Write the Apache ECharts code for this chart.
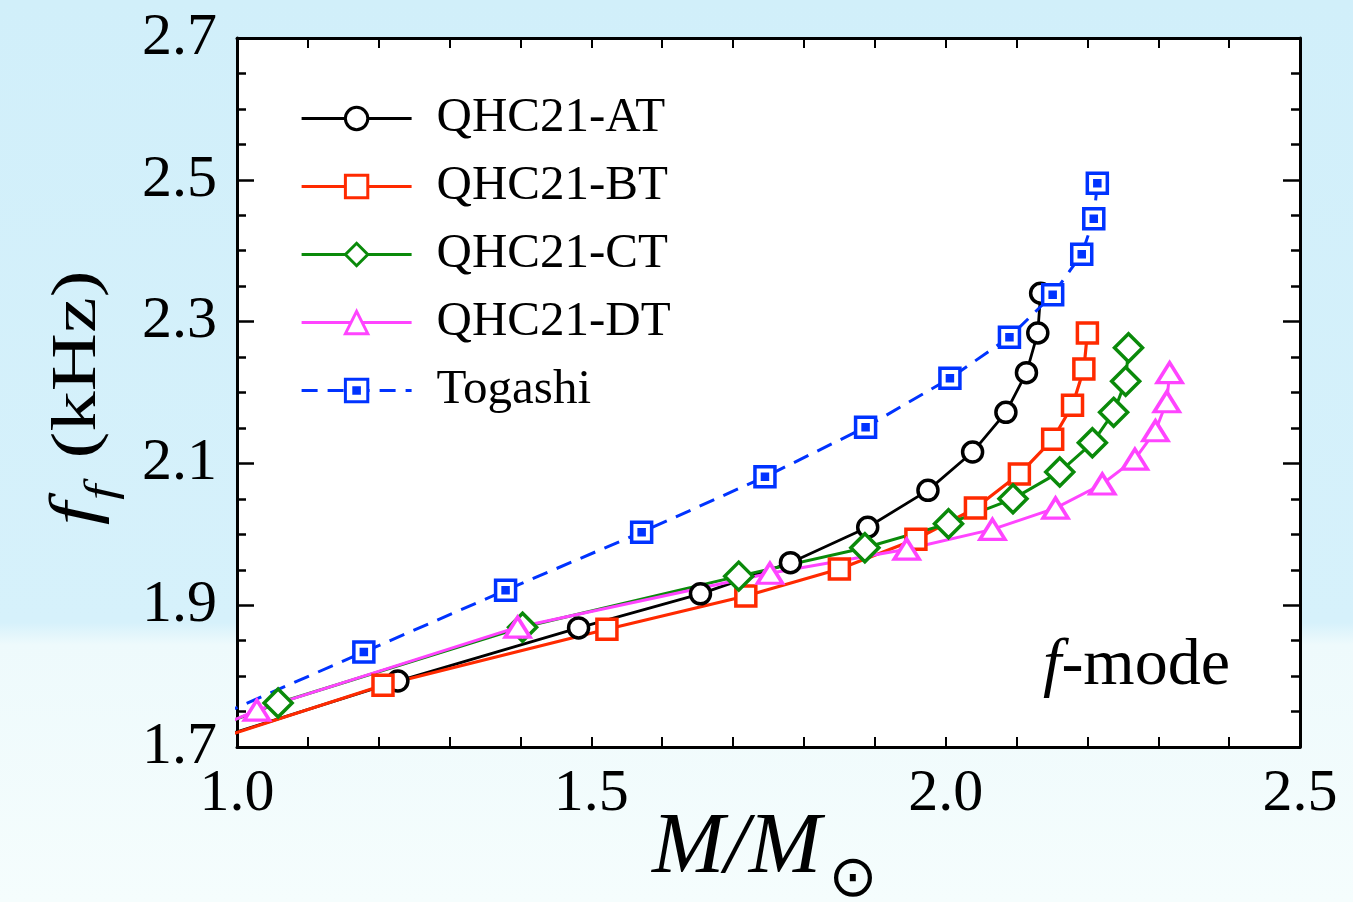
<!DOCTYPE html>
<html>
<head>
<meta charset="utf-8">
<title>f-mode frequency vs mass</title>
<style>
  html, body {
    margin: 0; padding: 0; width: 1353px; height: 902px; overflow: hidden;
    background: linear-gradient(to bottom, #d1effa 0%, #d6f1fb 69%, #eefafc 71.5%, #f5fdfd 100%);
  }
  #chart { width: 1353px; height: 902px; }
</style>
<script src="https://cdn.jsdelivr.net/npm/echarts/dist/echarts.min.js"></script>
</head>
<body>
<div id="chart"></div>
<script>
// Stellar mass (in solar masses) and f-mode frequency (kHz) for each equation of state.
// The first entry of each sequence lies just below 1.0 M_sun, where the curves enter the frame.
const massAT = [0.98, 1.227, 1.482, 1.654, 1.781, 1.890, 1.975, 2.038, 2.085, 2.114, 2.130, 2.134];
const freqAT = [1.715, 1.793, 1.868, 1.916, 1.960, 2.010, 2.062, 2.116, 2.172, 2.228, 2.284, 2.340];

const massBT = [0.98, 1.206, 1.522, 1.718, 1.850, 1.958, 2.042, 2.104, 2.151, 2.179, 2.195, 2.200];
const freqBT = [1.714, 1.787, 1.866, 1.913, 1.951, 1.993, 2.037, 2.085, 2.134, 2.182, 2.233, 2.284];

const massCT = [0.98, 1.058, 1.403, 1.708, 1.886, 2.004, 2.095, 2.161, 2.207, 2.237, 2.254, 2.258];
const freqCT = [1.732, 1.762, 1.869, 1.941, 1.981, 2.015, 2.050, 2.088, 2.129, 2.172, 2.216, 2.263];

const massDT = [0.98, 1.028, 1.396, 1.752, 1.945, 2.066, 2.155, 2.221, 2.267, 2.296, 2.312, 2.316];
const freqDT = [1.731, 1.752, 1.869, 1.945, 1.979, 2.007, 2.037, 2.071, 2.106, 2.146, 2.187, 2.228];

const massTog = [0.98, 1.179, 1.379, 1.571, 1.745, 1.887, 2.006, 2.090, 2.151, 2.192, 2.209, 2.214];
const freqTog = [1.747, 1.834, 1.921, 2.003, 2.081, 2.151, 2.220, 2.278, 2.338, 2.395, 2.445, 2.495];

const seriesNames = ['QHC21-AT', 'QHC21-BT', 'QHC21-CT', 'QHC21-DT', 'Togashi'];

// Axis ranges and tick spacing
const xRange = [1.0, 2.5], xStep = 0.5;
const yRange = [1.7, 2.7], yStep = 0.2;

const SERIF = 'Liberation Serif';
const INK = '#000';

// Open square with a solid centre dot (outer frame + two nested inner squares that the stroke fills in)
const dottedSquare = 'path://M0,0L20,0L20,20L0,20Z M7.5,7.5L12.5,7.5L12.5,12.5L7.5,12.5Z M9,9L11,9L11,11L9,11Z';

const styles = [
  { color: '#000000', symbol: 'circle',   size: 20,       lw: 2.8, dash: 'solid' },
  { color: '#ff2a00', symbol: 'rect',     size: 20,       lw: 3.2, dash: 'solid' },
  { color: '#0a8a0a', symbol: 'diamond',  size: 28,       lw: 3,   dash: 'solid' },
  { color: '#ff44ff', symbol: 'triangle', size: [25, 20], lw: 3,   dash: 'solid' },
  { color: '#0033ff', symbol: dottedSquare, size: 20,     lw: 3,   dash: [16, 10] }
];

const masses = [massAT, massBT, massCT, massDT, massTog];
const freqs = [freqAT, freqBT, freqCT, freqDT, freqTog];

function pairs(xs, ys) { return xs.map((x, i) => [x, ys[i]]); }

const series = seriesNames.map((name, k) => ({
  name: name,
  type: 'line',
  data: pairs(masses[k], freqs[k]),
  color: styles[k].color,
  symbol: styles[k].symbol,
  symbolSize: styles[k].size,
  showAllSymbol: true,
  clip: true,
  lineStyle: { color: styles[k].color, width: styles[k].lw, type: styles[k].dash },
  itemStyle: { color: '#fff', borderColor: styles[k].color, borderWidth: 3.5 },
  emphasis: { disabled: true },
  xAxisIndex: 0,
  yAxisIndex: 0
}));

const frameLine = { show: true, onZero: false, lineStyle: { color: INK, width: 3 } };
const tickFont = { color: INK, fontFamily: SERIF, fontSize: 60 };

function xAxisCfg(position, withLabels) {
  return {
    type: 'value', position: position,
    min: xRange[0], max: xRange[1], interval: xStep,
    axisLine: frameLine,
    axisTick: { show: true, inside: true, length: 10, lineStyle: { color: INK, width: 2 } },
    minorTick: { show: true, splitNumber: 5, length: 10, lineStyle: { color: INK, width: 2 } },
    splitLine: { show: false }, minorSplitLine: { show: false },
    axisLabel: Object.assign({ show: withLabels, margin: 17, showMinLabel: true, showMaxLabel: true,
      formatter: v => v.toFixed(1) }, tickFont)
  };
}

function yAxisCfg(position, withLabels) {
  return {
    type: 'value', position: position,
    min: yRange[0], max: yRange[1], interval: yStep,
    axisLine: frameLine,
    axisTick: { show: true, inside: true, length: 17, lineStyle: { color: INK, width: 2.5 } },
    minorTick: { show: true, splitNumber: 4, length: 9, lineStyle: { color: INK, width: 2.5 } },
    splitLine: { show: false }, minorSplitLine: { show: false },
    axisLabel: Object.assign({ show: withLabels, margin: 20, showMinLabel: true, showMaxLabel: true,
      formatter: v => v.toFixed(1) }, tickFont)
  };
}

const option = {
  animation: false,
  backgroundColor: 'transparent',
  grid: { left: 237, right: 53, top: 38, bottom: 155, show: true, backgroundColor: '#fff', borderWidth: 0 },
  xAxis: [xAxisCfg('bottom', true), xAxisCfg('top', false)],
  yAxis: [yAxisCfg('left', true), yAxisCfg('right', false)],
  legend: {
    orient: 'vertical', left: 300, top: 94, padding: 0,
    itemGap: 19, itemWidth: 110, itemHeight: 28,
    selectedMode: false,
    textStyle: { fontFamily: SERIF, fontSize: 49, color: INK, lineHeight: 48, padding: [0, 0, 0, 20] },
    data: seriesNames.map((name, k) => ({
      name: name,
      itemStyle: { color: '#fff', borderColor: styles[k].color, borderWidth: 3 },
      lineStyle: { color: styles[k].color, width: styles[k].lw, type: styles[k].dash }
    }))
  },
  graphic: [
    // vertical axis title: f_f (kHz)
    {
      type: 'group', x: 98, y: 408, rotation: Math.PI / 2, scaleX: 1.26,
      children: [
        { type: 'text', x: -93, y: -20,
          style: { text: 'f', font: 'italic 66px "Liberation Serif"', fill: INK,
                   align: 'left', verticalAlign: 'middle', textAlign: 'left', textVerticalAlign: 'middle' } },
        { type: 'text', x: -73, y: 5,
          style: { text: 'f', font: 'italic 44px "Liberation Serif"', fill: INK,
                   align: 'left', verticalAlign: 'middle', textAlign: 'left', textVerticalAlign: 'middle' } },
        { type: 'text', x: -40, y: -19.5,
          style: { text: '(kHz)', font: '64px "Liberation Serif"', fill: INK,
                   align: 'left', verticalAlign: 'middle', textAlign: 'left', textVerticalAlign: 'middle' } }
      ]
    },
    // horizontal axis title: M/M_sun
    { type: 'text', x: 652, y: 849,
      style: { text: 'M/M', font: 'italic 87px "Liberation Serif"', fill: INK,
               align: 'left', verticalAlign: 'middle', textAlign: 'left', textVerticalAlign: 'middle' } },
    { type: 'text', x: 853, y: 881,
      style: { text: '\u2299', font: '58px "DejaVu Sans"', fill: INK,
               align: 'center', verticalAlign: 'middle', textAlign: 'center', textVerticalAlign: 'middle' } },
    // panel tag
    { type: 'text', x: 1230, y: 667,
      style: { text: '{i|f}{r|-mode}', fill: INK,
               align: 'right', verticalAlign: 'middle', textAlign: 'right', textVerticalAlign: 'middle',
               rich: {
                 i: { fontFamily: SERIF, fontStyle: 'italic', fontSize: 66, fill: INK, color: INK },
                 r: { fontFamily: SERIF, fontSize: 66, fill: INK, color: INK }
               } } }
  ],
  series: series
};

const chart = echarts.init(document.getElementById('chart'), null, { renderer: 'canvas' });
chart.setOption(option);
</script>
</body>
</html>
